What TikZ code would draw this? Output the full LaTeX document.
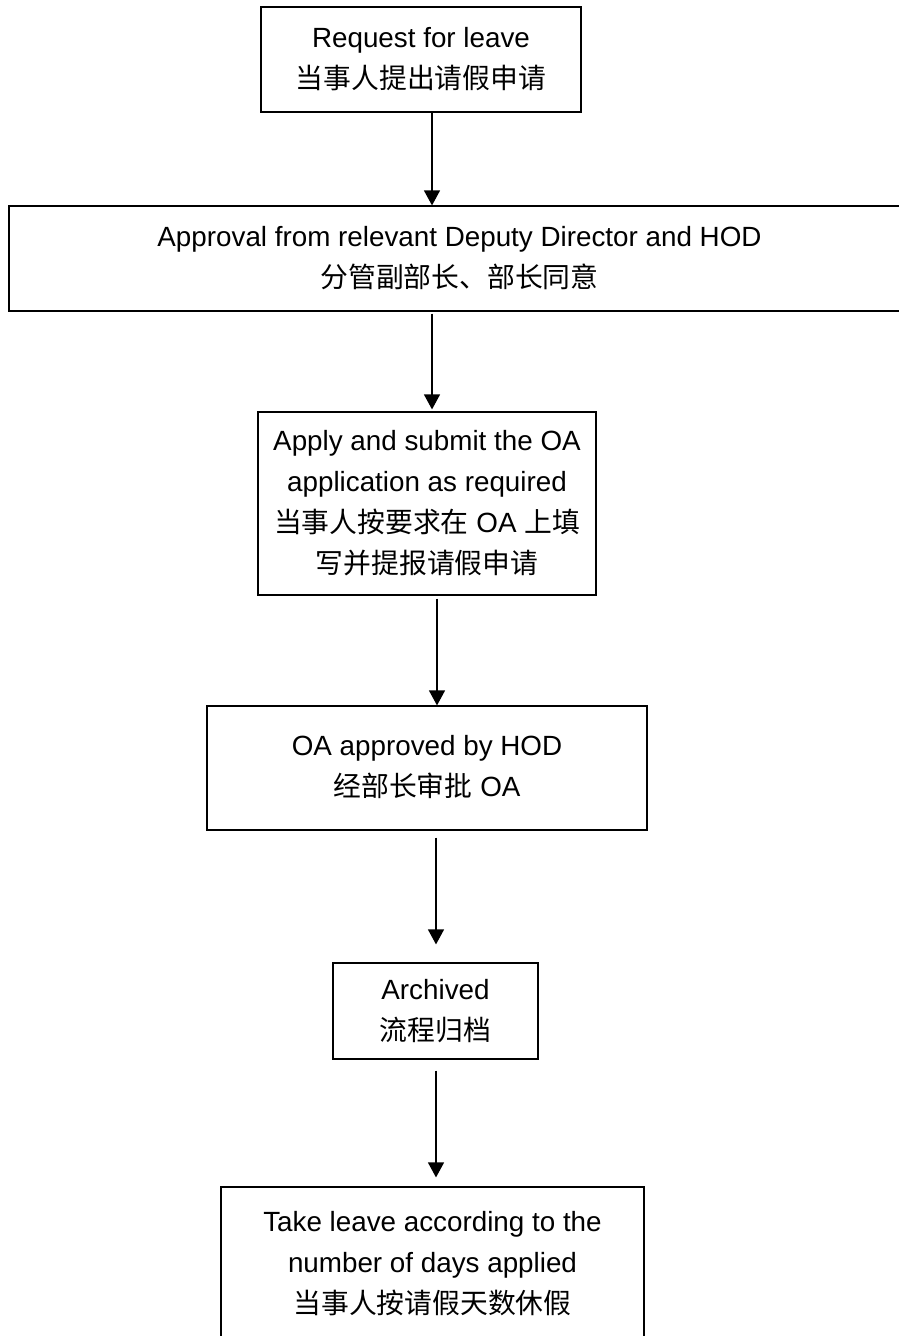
\documentclass[tikz,border=0pt]{standalone}
\usepackage{fontspec}
\setmainfont{Liberation Sans}
\newfontfamily\cjk{Noto Sans CJK SC}
\newcommand{\zh}[1]{{\cjk #1}}
\usetikzlibrary{arrows.meta}
\begin{document}
\begin{tikzpicture}[x=1pt,y=-1pt,
  box/.style={draw, line width=1.2pt, inner sep=0pt, align=center,
    font=\fontsize{27.8}{41}\selectfont},
  arr/.style={line width=1.2pt, -{Triangle[width=16pt,length=15pt]}}]
\useasboundingbox (0,0) rectangle (899,1336);
\clip (0,0) rectangle (899,1336);
\fill[white] (0,0) rectangle (899,1336);
\node[box, minimum width=320pt, minimum height=105pt] (n1) at (421,59.5)
  {\raisebox{-4pt}{\begin{tabular}{@{}c@{}}Request for leave\\\zh{当事人提出请假申请}\end{tabular}}};
\node[box, minimum width=901pt, minimum height=105pt] (n2) at (459.5,258.5)
  {Approval from relevant Deputy Director and HOD\\\zh{分管副部长、部长同意}};
\node[box, minimum width=338pt, minimum height=183pt] (n3) at (427,503.5)
  {Apply and submit the OA\\application as required\\\zh{当事人按要求在} OA \zh{上填}\\\zh{写并提报请假申请}};
\node[box, minimum width=440pt, minimum height=124pt] (n4) at (427,768)
  {\raisebox{12pt}{\begin{tabular}{@{}c@{}}OA approved by HOD\\\zh{经部长审批} OA\end{tabular}}};
\node[box, minimum width=205pt, minimum height=96pt] (n5) at (435.5,1011)
  {Archived\\\zh{流程归档}};
\node[box, minimum width=423pt, minimum height=153pt] (n6) at (432.5,1263.5)
  {Take leave according to the\\number of days applied\\\zh{当事人按请假天数休假}};
\draw[arr] ([xshift=11pt]n1.south) -- ([xshift=11pt]n1.south |- n2.north);
\draw[arr, shorten <=2pt, shorten >=2pt] ([xshift=-27.5pt]n2.south) -- ([xshift=-27.5pt]n2.south |- n3.north);
\draw[arr, shorten <=3pt] ([xshift=10pt]n3.south) -- ([xshift=10pt]n3.south |- n4.north);
\draw[arr, shorten <=7pt, shorten >=18pt] ([xshift=9pt]n4.south) -- ([xshift=9pt]n4.south |- n5.north);
\draw[arr, shorten <=11pt, shorten >=9pt] ([xshift=0.5pt]n5.south) -- ([xshift=0.5pt]n5.south |- n6.north);
\end{tikzpicture}
\end{document}
